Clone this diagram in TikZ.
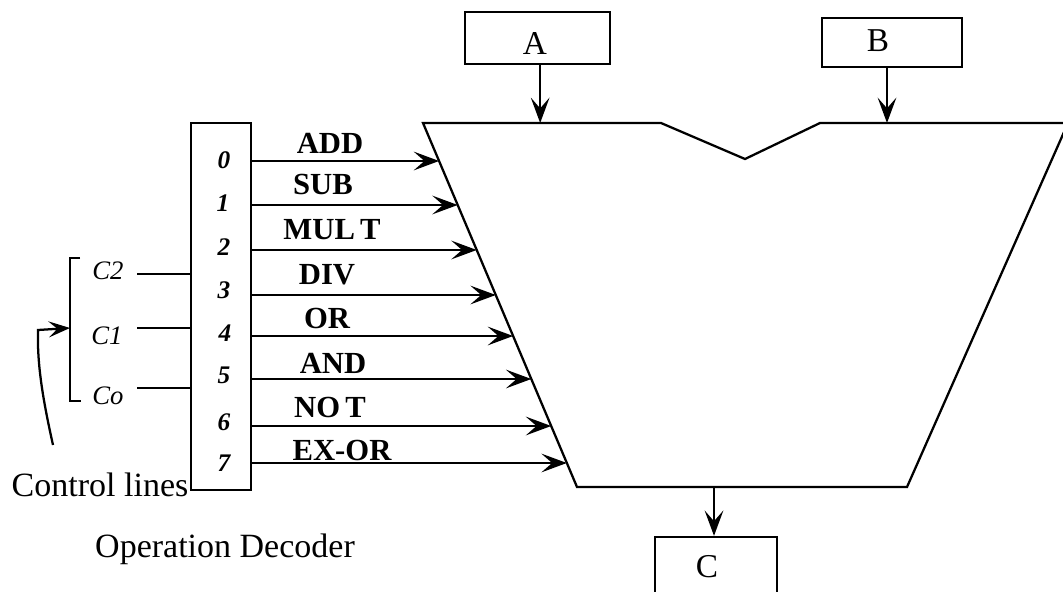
\documentclass[tikz,border=0pt]{standalone}
\usepackage{fontspec}
\setmainfont{Liberation Serif}
\usetikzlibrary{arrows.meta,calc}
\begin{document}
\begin{tikzpicture}[x=0.75pt,y=-0.75pt,line width=1.7pt,
  arr/.style={-{Stealth[length=19pt,width=14pt,inset=8pt]}},
  box/.style={draw,line width=1.7pt,inner sep=0pt},
  op/.style={font=\fontsize{23}{23}\selectfont\bfseries,inner sep=0pt},
  dig/.style={font=\fontsize{19}{19}\selectfont\bfseries\itshape,inner sep=0pt},
  ctl/.style={font=\fontsize{20}{20}\selectfont\itshape,inner sep=0pt},
  big/.style={font=\fontsize{25}{25}\selectfont,inner sep=0pt},
  captxt/.style={font=\fontsize{25.5}{25.5}\selectfont,inner sep=0pt}]
\clip (0,0) rectangle (1063,592);
\fill[white] (0,0) rectangle (1063,592);

% ALU trapezoid
\coordinate (tl) at (423,123);
\coordinate (n1) at (661,123);
\coordinate (nb) at (745,159);
\coordinate (n2) at (820,123);
\coordinate (tr) at (1068,123);
\coordinate (br) at (907,487);
\coordinate (bl) at (577,487);
\draw[line join=miter] (tl) -- (n1) -- (nb) -- (n2) -- (tr) -- (br) -- (bl) -- cycle;

% input / output boxes
\node[box,minimum width=108.75pt,minimum height=39pt] (A) at (537.5,38) {};
\node[big] at (535,43) {A};
\node[box,minimum width=105pt,minimum height=36.75pt] (B) at (892,42.5) {};
\node[big] at (878,41) {B};
\node[box,minimum width=91.5pt,minimum height=62.25pt] (C) at (716,578.5) {};
\node[big] at (707,567) {C};
\draw[arr] ([xshift=2pt]A.south) -- ([xshift=2pt]A.south |- tl);
\draw[arr] ([xshift=-3.75pt]B.south) -- ([xshift=-3.75pt]B.south |- tl);
\draw[arr] ([xshift=-1.5pt]C.north |- bl) -- ([xshift=-1.5pt]C.north);

% decoder
\node[box,minimum width=45pt,minimum height=275.25pt] (dec) at (221,306.5) {};
\node[dig] (d0) at (224,160) {0};
\node[dig] (d1) at (223,203) {1};
\node[dig] (d2) at (224,247) {2};
\node[dig] (d3) at (224,290) {3};
\node[dig] (d4) at (225,333) {4};
\node[dig] (d5) at (224,375) {5};
\node[dig] (d6) at (224,422) {6};
\node[dig] (d7) at (224,463) {7};

% decoder outputs
\coordinate (e0) at (439.1,161);
\coordinate (e1) at (457.7,205);
\coordinate (e2) at (476.7,250);
\coordinate (e3) at (495.8,295);
\coordinate (e4) at (513.1,336);
\coordinate (e5) at (531.3,379);
\coordinate (e6) at (551.2,426);
\coordinate (e7) at (566.8,463);
\foreach \i in {0,...,7} {\draw[arr] (dec.east |- e\i) -- (e\i);}
\node[op] (lADD) at (330,143) {ADD};
\node[op] (lSUB) at (323,184) {SUB};
\node[op] (lMUL) at (332,230) {MUL\,T};
\node[op] (lDIV) at (327,275) {DIV};
\node[op] (lOR)  at (327,318) {OR};
\node[op] (lAND) at (333,363) {AND};
\node[op] (lNOT) at (330,407) {NO\,T};
\node[op] (lEX)  at (342,450) {EX-OR};

% control lines
\node[ctl] (c2) at (108,271) {C2};
\node[ctl] (c1) at (107,336) {C1};
\node[ctl] (c0) at (108,396) {Co};
\coordinate (c2l) at (137,274);
\coordinate (c1l) at (137,328);
\coordinate (c0l) at (137,388);
\draw (c2l) -- (c2l -| dec.west);
\draw (c1l) -- (c1l -| dec.west);
\draw (c0l) -- (c0l -| dec.west);
\coordinate (bt) at (80,258);
\coordinate (bb) at (81,401);
\coordinate (bm) at (70,328);
\draw (bt) -- (70,258) -- (70,401) -- (bb);
\coordinate (cs) at (53,445);
\draw[-{Stealth[length=16pt,width=12pt,inset=6.5pt]}] (cs) .. controls (43,400) and (37,365) .. (38,330) -- (bm);
\node[captxt] (ctltxt) at (100,485) {Control lines};
\node[captxt] (opdec) at (225,549) {Operation Decoder};
\end{tikzpicture}
\end{document}
